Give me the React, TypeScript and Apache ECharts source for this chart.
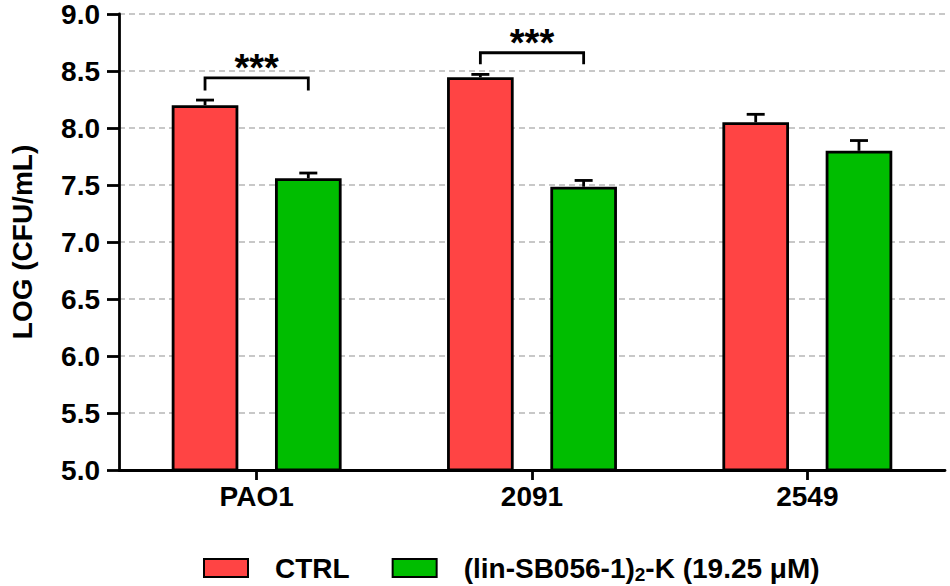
import React, { useEffect, useRef } from "react";
import * as echarts from "echarts";

const categories = ["PAO1", "2091", "2549"];
const seriesNames = ["CTRL", "(lin-SB056-1){sub|2}-K (19.25 μM)"];
const ctrlMeans = [8.2, 8.445, 8.05];
const ctrlErrors = [0.045, 0.025, 0.07];
const treatedMeans = [7.56, 7.485, 7.8];
const treatedErrors = [0.045, 0.055, 0.09];
const yMin = 5.0;
const yMax = 9.0;
const yInterval = 0.5;
// significance brackets: category index, bracket level (log CFU/mL), leg bottom level, label
const sigCategories = [0, 1];
const sigLevels = [8.44, 8.66];
const sigLegEnds = [8.33, 8.56];
const sigLabels = ["***", "***"];

const FONT = "'Liberation Sans', Arial, Helvetica, sans-serif";
const RED = "#FF4444";
const GREEN = "#00BD00";
const BAR_W = 0.242;
const BAR_GAP = 0.55;
const OFFSET = (BAR_W * (1 + BAR_GAP)) / 2;

function errorSeries(means: number[], errs: number[], sign: number) {
  return {
    type: "custom",
    z: 5,
    silent: true,
    data: means.map((m, i) => [i, m, errs[i]]),
    encode: { x: 0, y: 1 },
    renderItem: (params: any, api: any) => {
      const c = api.value(0);
      const m = api.value(1);
      const e = api.value(2);
      const base = api.coord([c, m]);
      const top = api.coord([c, m + e]);
      const band = api.size([1, 0])[0];
      const x = base[0] + sign * OFFSET * band;
      const st = { stroke: "#000", lineWidth: 2.8 };
      return {
        type: "group",
        children: [
          { type: "line", shape: { x1: x, y1: base[1], x2: x, y2: top[1] }, style: st },
          { type: "line", shape: { x1: x - 9, y1: top[1], x2: x + 9, y2: top[1] }, style: st },
        ],
      };
    },
  };
}

export default function App() {
  const ref = useRef<HTMLDivElement>(null);
  useEffect(() => {
    if (!ref.current) return;
    const chart = echarts.init(ref.current, undefined, { renderer: "svg" });
    const option: any = {
      animation: false,
      backgroundColor: "#fff",
      textStyle: { fontFamily: FONT },
      grid: { left: 112, right: 5, top: 14, bottom: 116, containLabel: false },
      legend: {
        data: seriesNames,
        left: 198,
        top: 549,
        icon: "rect",
        itemWidth: 44,
        itemHeight: 18,
        itemGap: 42,
        textStyle: {
          fontFamily: FONT,
          fontSize: 28,
          fontWeight: "bold",
          color: "#000",
          padding: [0, 0, 0, 22],
          rich: {
            sub: {
              fontFamily: FONT,
              fontSize: 19,
              fontWeight: "bold",
              color: "#000",
              padding: [13, 0, 0, 0],
            },
          },
        },
        formatter: (name: string) => name,
      },
      xAxis: {
        type: "category",
        data: categories,
        boundaryGap: true,
        axisLine: { show: true, lineStyle: { color: "#000", width: 2.8 } },
        axisTick: { show: true, alignWithLabel: true, length: 10, lineStyle: { color: "#000", width: 2.8 } },
        axisLabel: { fontFamily: FONT, fontSize: 28, fontWeight: "bold", color: "#000", margin: 12 },
        splitLine: { show: false },
      },
      yAxis: {
        type: "value",
        min: yMin,
        max: yMax,
        interval: yInterval,
        name: "LOG (CFU/mL)",
        nameLocation: "middle",
        nameGap: 83,
        nameTextStyle: { fontFamily: FONT, fontSize: 28, fontWeight: "bold", color: "#000" },
        axisLine: { show: true, lineStyle: { color: "#000", width: 2.8 } },
        axisTick: { show: true, length: 12, lineStyle: { color: "#000", width: 2.8 } },
        axisLabel: {
          fontFamily: FONT,
          fontSize: 28,
          fontWeight: "bold",
          color: "#000",
          margin: 19,
          formatter: (v: number) => v.toFixed(1),
        },
        splitLine: { show: true, lineStyle: { color: "#C8C8C8", width: 2, type: [6, 4] } },
      },
      series: [
        {
          name: seriesNames[0],
          type: "bar",
          data: ctrlMeans,
          barWidth: `${BAR_W * 100}%`,
          barGap: `${BAR_GAP * 100}%`,
          itemStyle: { color: RED, borderColor: "#000", borderWidth: 2.8 },
          z: 3,
        },
        {
          name: seriesNames[1],
          type: "bar",
          data: treatedMeans,
          barWidth: `${BAR_W * 100}%`,
          barGap: `${BAR_GAP * 100}%`,
          itemStyle: { color: GREEN, borderColor: "#000", borderWidth: 2.8 },
          z: 3,
        },
        errorSeries(ctrlMeans, ctrlErrors, -1),
        errorSeries(treatedMeans, treatedErrors, 1),
        {
          type: "custom",
          z: 6,
          silent: true,
          data: sigCategories.map((c, i) => [c, sigLevels[i], sigLegEnds[i]]),
          encode: { x: 0, y: 1 },
          renderItem: (params: any, api: any) => {
            const c = api.value(0);
            const lvl = api.value(1);
            const legEnd = api.value(2);
            const p = api.coord([c, lvl]);
            const pEnd = api.coord([c, legEnd]);
            const band = api.size([1, 0])[0];
            const x1 = p[0] - OFFSET * band;
            const x2 = p[0] + OFFSET * band;
            const label = sigLabels[params.dataIndex];
            return {
              type: "group",
              children: [
                {
                  type: "polyline",
                  shape: { points: [[x1, pEnd[1]], [x1, p[1]], [x2, p[1]], [x2, pEnd[1]]] },
                  style: { stroke: "#000", lineWidth: 2.8, fill: "none" },
                },
                {
                  type: "text",
                  x: p[0],
                  y: p[1] - 10,
                  style: {
                    text: label,
                    font: `bold 38px ${FONT}`,
                    fill: "#000",
                    textAlign: "center",
                    textVerticalAlign: "middle",
                  },
                },
              ],
            };
          },
        },
      ],
    };
    chart.setOption(option);
    return () => chart.dispose();
  }, []);
  return (
    <div
      ref={ref}
      style={{ position: "absolute", left: 0, top: 0, width: 950, height: 586 }}
    />
  );
}
